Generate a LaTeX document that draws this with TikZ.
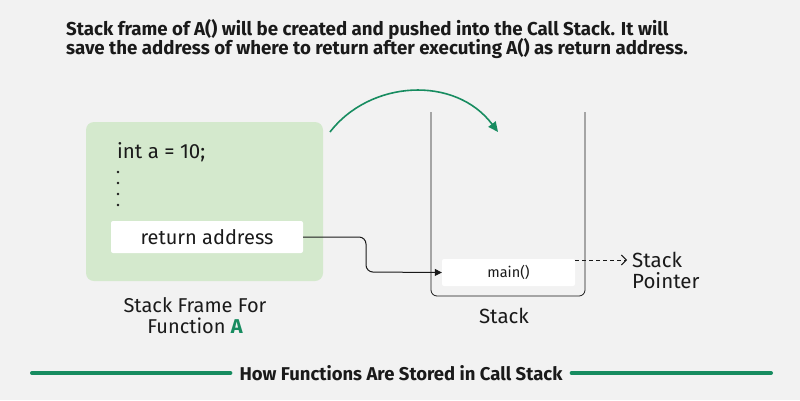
\documentclass[tikz,border=0pt]{standalone}
\usepackage{fontspec}
\setmainfont{Fira Sans}
\usetikzlibrary{arrows.meta}
\definecolor{bg}{HTML}{F2F2F2}
\definecolor{gbox}{HTML}{D4E9CD}
\definecolor{gline}{HTML}{178C60}
\definecolor{ink}{HTML}{1A1A1A}
\tikzset{
  txt/.style={inner sep=0pt, text=ink},
  wbox/.style={fill=white, draw=none, rounded corners=2pt},
}
\begin{document}
\begin{tikzpicture}[x=1pt,y=-1pt]
\fill[bg] (0,0) rectangle (800,400);
\useasboundingbox (0,0) rectangle (800,400);
% title
\node[txt, anchor=west, font=\fontsize{18.7}{22}\selectfont\bfseries] (t1) at (66,30) {Stack frame of A() will be created and pushed into the Call Stack. It will};
\node[txt, anchor=west, font=\fontsize{18.7}{22}\selectfont\bfseries] (t2) at (66,49) {save the address of where to return after executing A() as return address.};
% green frame
\node[fill=gbox, rounded corners=8pt, minimum width=237pt, minimum height=159pt, inner sep=0pt] (frame) at (204.5,201.5) {};
\node[txt, anchor=west, font=\fontsize{20.5}{24}\selectfont] (code) at (117,152) {int a = 10;};
\foreach \yy in {172,183,194,205} \fill[ink] (118,\yy) circle (1.4pt);
\node[wbox, minimum width=192pt, minimum height=32pt, inner sep=0pt, font=\fontsize{20}{24}\selectfont, text=ink] (ret) at (207,237) {return address};
\node[txt, font=\fontsize{20}{21}\selectfont, align=center] (flbl) at (195,316) {Stack Frame For\\Function {\bfseries\color{gline}A}};
% stack
\draw[ink, line width=0.8pt, rounded corners=6pt] (431,112) -- (431,296) -- (585,296) -- (585,112);
\node[wbox, minimum width=133pt, minimum height=27pt, inner sep=0pt, font=\fontsize{14.5}{16}\selectfont, text=ink] (main) at (508.5,272.5) {main()};
\node[txt, font=\fontsize{20.5}{24}\selectfont] (slbl) at (504,316) {Stack};
\node[txt, anchor=west, align=left, font=\fontsize{20.5}{21}\selectfont] (sp) at (632,270) {Stack\\Pointer};
\coordinate (spstart) at (575,260);
\coordinate (spend) at (627,260);
\draw[ink, line width=1pt, dash pattern=on 4pt off 3pt, -{Straight Barb[length=5pt,width=10pt]}] (spstart) -- (spend);
% connector
\draw[ink, line width=1pt, rounded corners=7pt, -{Triangle[length=7pt,width=7pt]}] (ret.east) -- (366,237) -- (366,272) -- (main.west);
% green arc
\coordinate (a1) at (330,132);
\coordinate (a2) at (498,132);
\draw[gline, line width=1.6pt, -{Triangle[length=10pt,width=9pt]}] (a1) .. controls (370,80) and (455,75) .. (a2);
% footer
\node[txt, font=\fontsize{18.5}{20}\selectfont\bfseries] (foot) at (401,373) {How Functions Are Stored in Call Stack};
\coordinate (l1) at (32,373);
\coordinate (r2) at (771,373);
\draw[gline, line width=4pt, line cap=round] (l1) -- ([xshift=-9pt]foot.west);
\draw[gline, line width=4pt, line cap=round] ([xshift=9pt]foot.east) -- (r2);
\end{tikzpicture}
\end{document}
